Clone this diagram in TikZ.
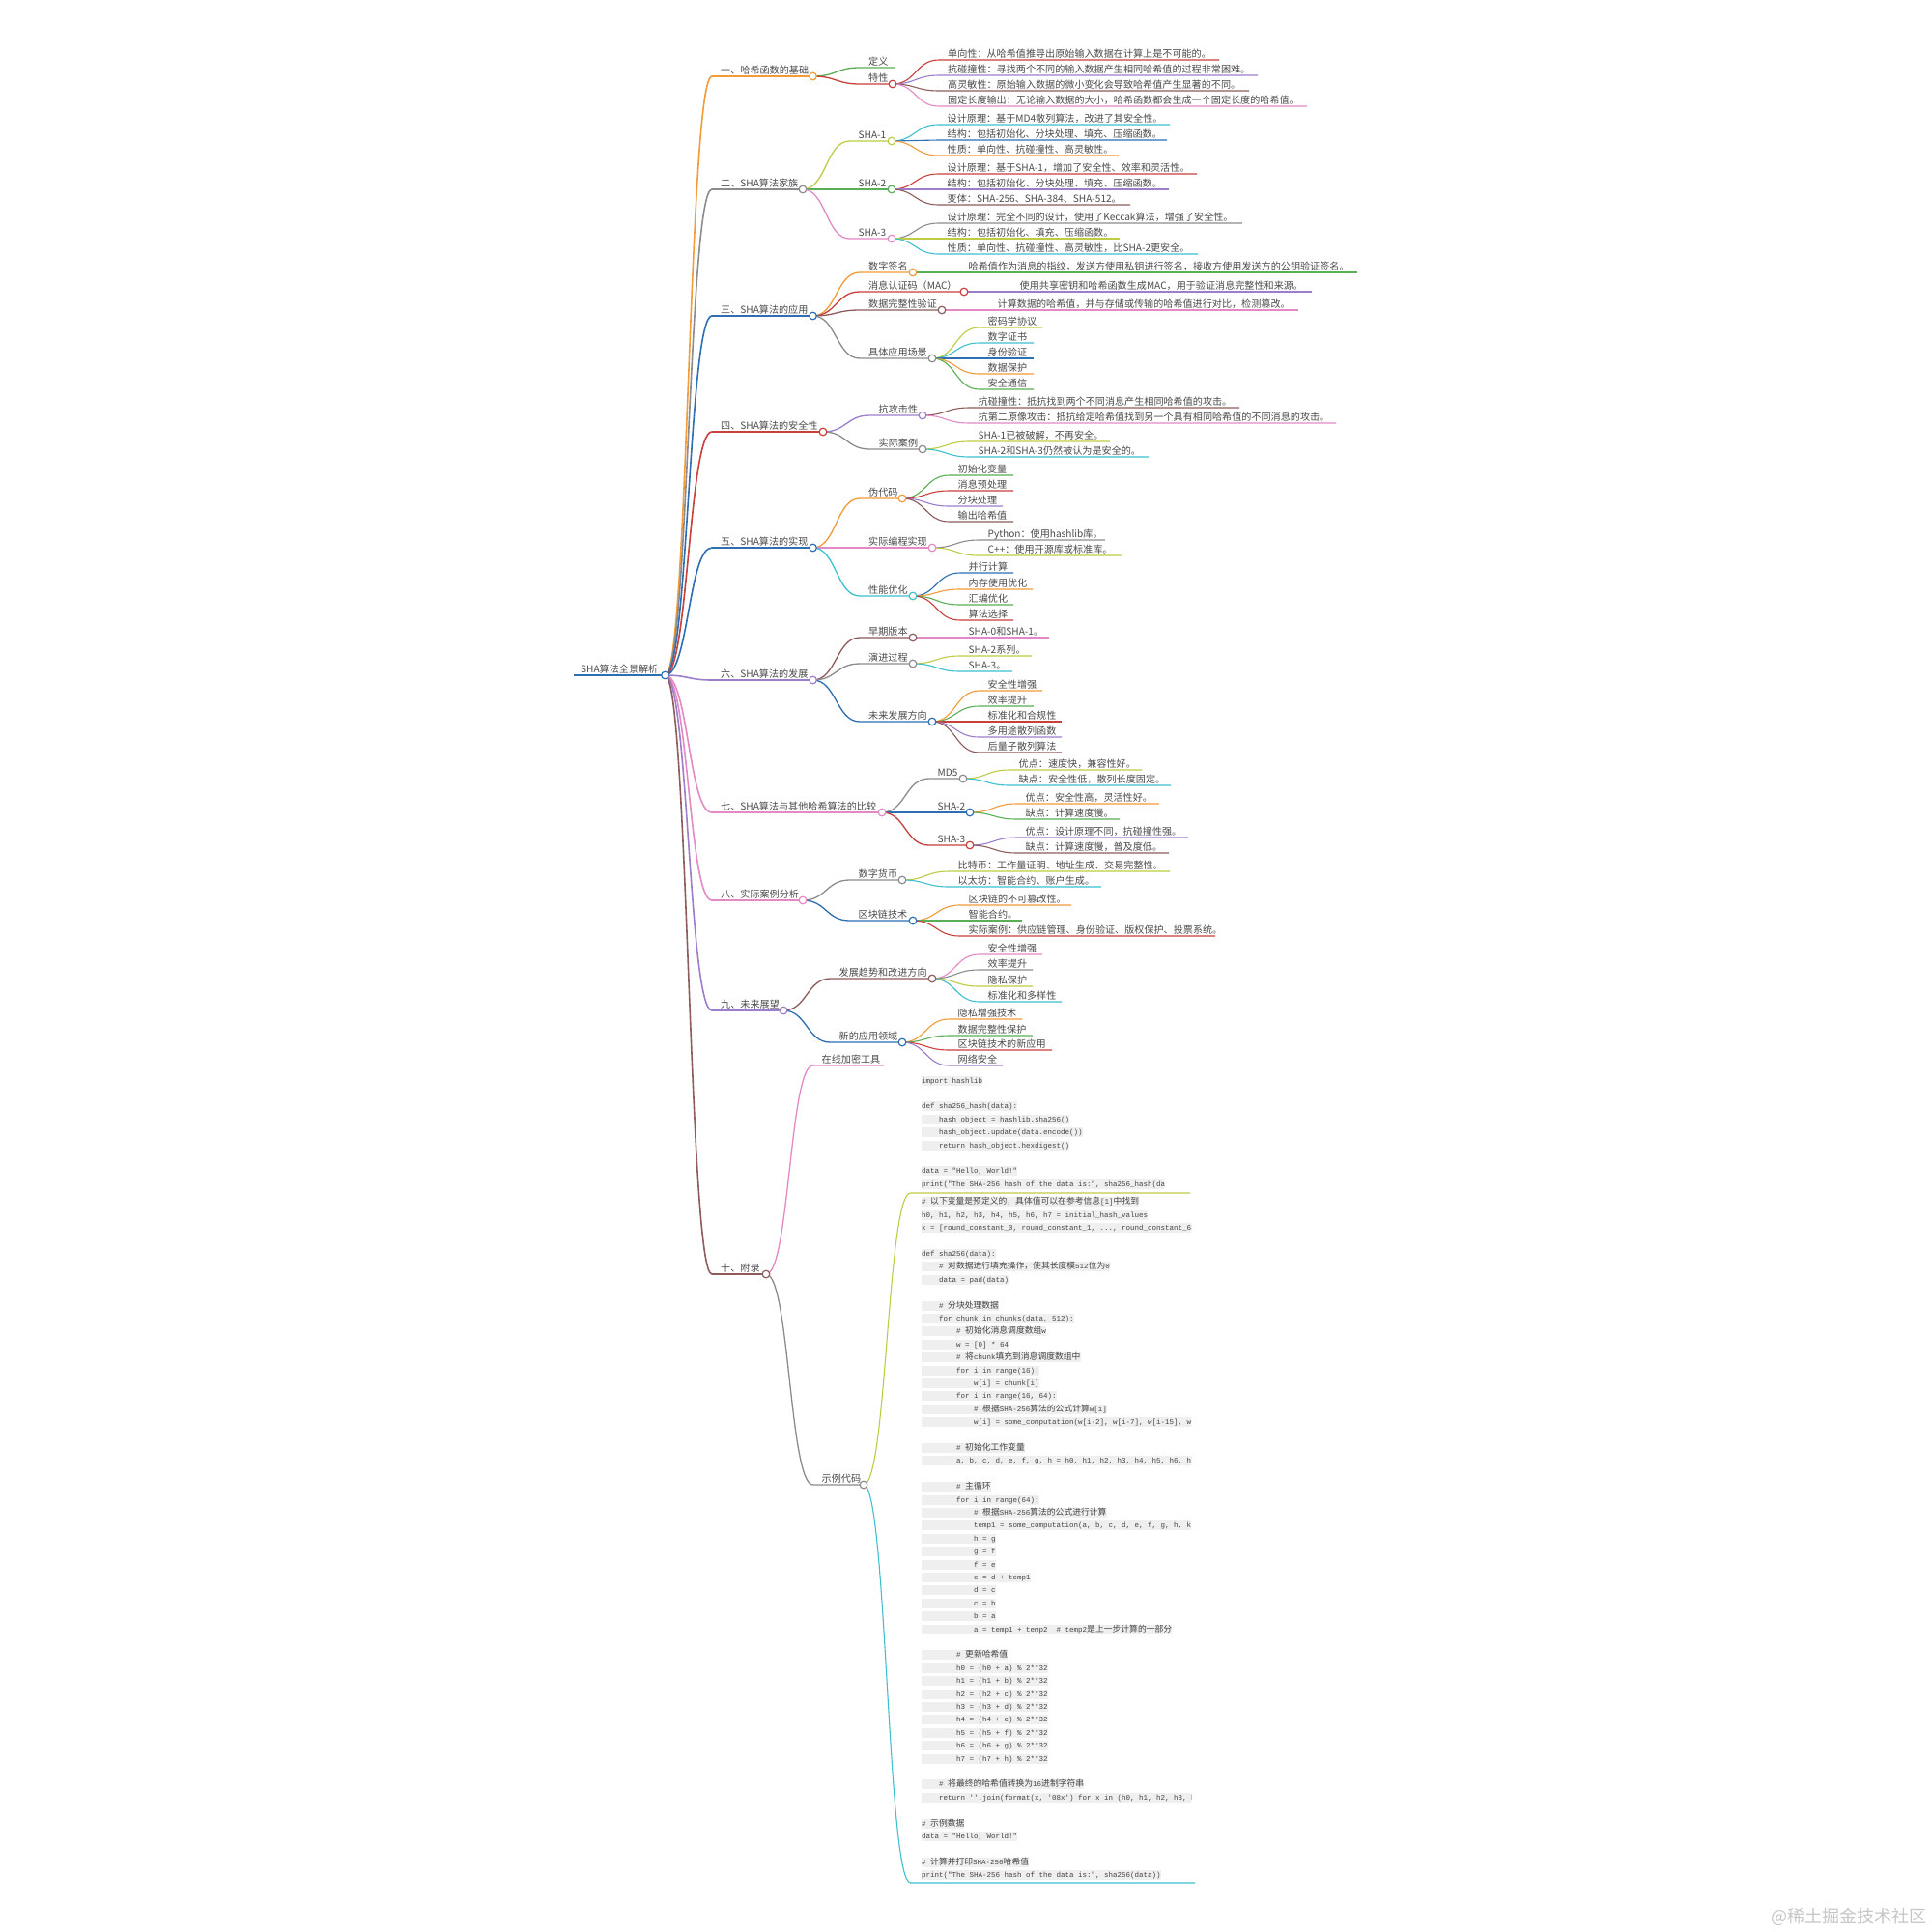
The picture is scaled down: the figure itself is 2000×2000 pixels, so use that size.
\documentclass[tikz,border=0pt]{standalone}
\usepackage{fontspec}
\setmainfont{Noto Sans CJK SC}
\setmonofont{Liberation Mono}
\usetikzlibrary{calc}
\definecolor{cOrange}{HTML}{F29B38}
\definecolor{cGreen}{HTML}{5AAE55}
\definecolor{cRed}{HTML}{C8403C}
\definecolor{cPurple}{HTML}{9D7ECB}
\definecolor{cBrown}{HTML}{8E5C5C}
\definecolor{cPink}{HTML}{E38AC6}
\definecolor{cGray}{HTML}{8C8C8C}
\definecolor{cYG}{HTML}{BFCB45}
\definecolor{cCyan}{HTML}{3EC0CF}
\definecolor{cBlue}{HTML}{2E6FB3}
\definecolor{txt}{HTML}{4A4A4A}
\definecolor{codebg}{HTML}{EFEFEF}
\definecolor{codetxt}{HTML}{444444}
\definecolor{wm}{HTML}{C6C6C6}
\pgfdeclarelayer{fg}
\pgfsetlayers{main,fg}
\newlength\cw
\setlength\cw{4.5pt}
\newcounter{cln}
\newcommand\Z[1]{{\rmfamily\fontsize{8.8}{10}\selectfont #1}}
% edge + underline: #1 lw, #2 name, #3 parent, #4 colour, #5 uy, #6 lx, #7 ex
\newcommand\mmE[7]{%
  \coordinate (#2l) at (#6,#5);
  \coordinate (#2) at (#7,#5);
  \coordinate (#2m) at ($(#3)!0.5!(#2l)$);
  \draw[line width=#1,draw=#4] (#3) .. controls (#3 -| #2m) and (#2l -| #2m) .. (#2l) -- (#2);
}
\newcommand\mmL[8]{\mmE{#1}{#2}{#3}{#4}{#5}{#6}{#7}%
  \node[mmtext] (#2t) at ($(#2l)+(9,-2.4)$) {#8};}
\newcommand\mmN[8]{\mmL{#1}{#2}{#3}{#4}{#5}{#6}{#7}{#8}%
  \begin{pgfonlayer}{fg}\node[circ,draw=#4] (#2c) at (#2) {};\end{pgfonlayer}}
\newcommand\cl[3]{\stepcounter{cln}\node[codeln] (cl\arabic{cln}) at (954,#1) {\hspace*{#2\cw}#3};}
\def\LA{1.6pt}
\def\LB{1.3pt}
\def\LC{1.1pt}
\begin{document}
\begin{tikzpicture}[x=1pt,y=-1pt,
  mmtext/.style={anchor=base west,inner sep=0pt,text=txt,font=\fontsize{10.1}{12}\selectfont},
  circ/.style={circle,fill=white,line width=1.2pt,minimum size=7.6pt,inner sep=0pt},
  codeln/.style={anchor=west,fill=codebg,inner xsep=0pt,inner ysep=0pt,text height=7.4pt,text depth=2.5pt,text=codetxt,font=\ttfamily\fontsize{7.5}{9}\selectfont}]
\useasboundingbox (0,0) rectangle (2000,2000);
\fill[white] (0,0) rectangle (2000,2000);

% root
\coordinate (R) at (688.5,699);
\coordinate (Rl) at (594,699);
\draw[line width=2.8pt,cBlue] (Rl) -- (R);
\node[mmtext] (Rt) at (601,696) {SHA算法全景解析};
\begin{pgfonlayer}{fg}\node[circ,draw=cBlue] (Rc) at (R) {};\end{pgfonlayer}

% 一
\mmN{\LA}{a1}{R}{cOrange}{79}{737}{841.5}{一、哈希函数的基础}
\mmL{\LB}{b11}{a1}{cGreen}{70}{890}{927}{定义}
\mmN{\LB}{b12}{a1}{cRed}{87}{890}{924}{特性}
\mmL{\LC}{c121}{b12}{cRed}{62}{972}{1262}{单向性：从哈希值推导出原始输入数据在计算上是不可能的。}
\mmL{\LC}{c122}{b12}{cPurple}{78}{972}{1302}{抗碰撞性：寻找两个不同的输入数据产生相同哈希值的过程非常困难。}
\mmL{\LC}{c123}{b12}{cBrown}{94}{972}{1293}{高灵敏性：原始输入数据的微小变化会导致哈希值产生显著的不同。}
\mmL{\LC}{c124}{b12}{cPink}{110}{972}{1353}{固定长度输出：无论输入数据的大小，哈希函数都会生成一个固定长度的哈希值。}

% 二
\mmN{\LA}{a2}{R}{cGray}{196}{737}{831}{二、SHA算法家族}
\mmN{\LB}{b21}{a2}{cYG}{146}{879.5}{923}{SHA-1}
\mmN{\LB}{b22}{a2}{cGreen}{196}{879.5}{923}{SHA-2}
\mmN{\LB}{b23}{a2}{cPink}{247}{879.5}{923}{SHA-3}
\mmL{\LC}{c211}{b21}{cCyan}{129}{971.5}{1211}{设计原理：基于MD4散列算法，改进了其安全性。}
\mmL{\LC}{c212}{b21}{cBlue}{145}{971.5}{1208}{结构：包括初始化、分块处理、填充、压缩函数。}
\mmL{\LC}{c213}{b21}{cOrange}{161}{971.5}{1158}{性质：单向性、抗碰撞性、高灵敏性。}
\mmL{\LC}{c221}{b22}{cRed}{180}{971.5}{1239}{设计原理：基于SHA-1，增加了安全性、效率和灵活性。}
\mmL{\LC}{c222}{b22}{cPurple}{196}{971.5}{1210}{结构：包括初始化、分块处理、填充、压缩函数。}
\mmL{\LC}{c223}{b22}{cBrown}{212}{971.5}{1170}{变体：SHA-256、SHA-384、SHA-512。}
\mmL{\LC}{c231}{b23}{cGray}{231}{971.5}{1286}{设计原理：完全不同的设计，使用了Keccak算法，增强了安全性。}
\mmL{\LC}{c232}{b23}{cYG}{247}{971.5}{1159}{结构：包括初始化、填充、压缩函数。}
\mmL{\LC}{c233}{b23}{cCyan}{263}{971.5}{1240}{性质：单向性、抗碰撞性、高灵敏性，比SHA-2更安全。}

% 三
\mmN{\LA}{a3}{R}{cBlue}{327}{737}{841.5}{三、SHA算法的应用}
\mmN{\LB}{b31}{a3}{cOrange}{282}{890}{945}{数字签名}
\mmN{\LB}{b32}{a3}{cRed}{302}{890}{998}{消息认证码（MAC）}
\mmN{\LB}{b33}{a3}{cBrown}{321}{890}{975}{数据完整性验证}
\mmN{\LB}{b34}{a3}{cGray}{371}{890}{965}{具体应用场景}
\mmL{\LC}{c311}{b31}{cGreen}{282}{993.5}{1405}{哈希值作为消息的指纹，发送方使用私钥进行签名，接收方使用发送方的公钥验证签名。}
\mmL{\LC}{c321}{b32}{cPurple}{302}{1046.5}{1358}{使用共享密钥和哈希函数生成MAC，用于验证消息完整性和来源。}
\mmL{\LC}{c331}{b33}{cPink}{321}{1023.5}{1344}{计算数据的哈希值，并与存储或传输的哈希值进行对比，检测篡改。}
\mmL{\LC}{c341}{b34}{cYG}{339}{1013.5}{1079}{密码学协议}
\mmL{\LC}{c342}{b34}{cCyan}{355}{1013.5}{1070}{数字证书}
\mmL{\LC}{c343}{b34}{cBlue}{371}{1013.5}{1070}{身份验证}
\mmL{\LC}{c344}{b34}{cOrange}{387}{1013.5}{1070}{数据保护}
\mmL{\LC}{c345}{b34}{cGreen}{403}{1013.5}{1070}{安全通信}

% 四
\mmN{\LA}{a4}{R}{cRed}{447}{737}{852}{四、SHA算法的安全性}
\mmN{\LB}{b41}{a4}{cPurple}{430}{900.5}{955}{抗攻击性}
\mmN{\LB}{b42}{a4}{cGray}{465}{900.5}{955}{实际案例}
\mmL{\LC}{c411}{b41}{cBrown}{422}{1003.5}{1283}{抗碰撞性：抵抗找到两个不同消息产生相同哈希值的攻击。}
\mmL{\LC}{c412}{b41}{cPink}{438}{1003.5}{1383}{抗第二原像攻击：抵抗给定哈希值找到另一个具有相同哈希值的不同消息的攻击。}
\mmL{\LC}{c421}{b42}{cYG}{457}{1003.5}{1149}{SHA-1已被破解，不再安全。}
\mmL{\LC}{c422}{b42}{cCyan}{473}{1003.5}{1189}{SHA-2和SHA-3仍然被认为是安全的。}

% 五
\mmN{\LA}{a5}{R}{cBlue}{567}{737}{841.5}{五、SHA算法的实现}
\mmN{\LB}{b51}{a5}{cOrange}{516}{890}{934}{伪代码}
\mmN{\LB}{b52}{a5}{cPink}{567}{890}{965}{实际编程实现}
\mmN{\LB}{b53}{a5}{cCyan}{617}{890}{945}{性能优化}
\mmL{\LC}{c511}{b51}{cGreen}{492}{982.5}{1049}{初始化变量}
\mmL{\LC}{c512}{b51}{cRed}{508}{982.5}{1049}{消息预处理}
\mmL{\LC}{c513}{b51}{cPurple}{524}{982.5}{1038}{分块处理}
\mmL{\LC}{c514}{b51}{cBrown}{540}{982.5}{1049}{输出哈希值}
\mmL{\LC}{c521}{b52}{cGray}{559}{1013.5}{1144}{Python：使用hashlib库。}
\mmL{\LC}{c522}{b52}{cYG}{575}{1013.5}{1161}{C++：使用开源库或标准库。}
\mmL{\LC}{c531}{b53}{cBlue}{593}{993.5}{1049}{并行计算}
\mmL{\LC}{c532}{b53}{cOrange}{610}{993.5}{1069}{内存使用优化}
\mmL{\LC}{c533}{b53}{cGreen}{626}{993.5}{1049}{汇编优化}
\mmL{\LC}{c534}{b53}{cRed}{642}{993.5}{1049}{算法选择}

% 六
\mmN{\LA}{a6}{R}{cPurple}{704}{737}{841.5}{六、SHA算法的发展}
\mmN{\LB}{b61}{a6}{cBrown}{660}{890}{945}{早期版本}
\mmN{\LB}{b62}{a6}{cGray}{687}{890}{945}{演进过程}
\mmN{\LB}{b63}{a6}{cBlue}{747}{890}{965}{未来发展方向}
\mmL{\LC}{c611}{b61}{cPink}{660}{993.5}{1086}{SHA-0和SHA-1。}
\mmL{\LC}{c621}{b62}{cYG}{679}{993.5}{1068}{SHA-2系列。}
\mmL{\LC}{c622}{b62}{cCyan}{695}{993.5}{1048}{SHA-3。}
\mmL{\LC}{c631}{b63}{cOrange}{715}{1013.5}{1079}{安全性增强}
\mmL{\LC}{c632}{b63}{cGreen}{731}{1013.5}{1070}{效率提升}
\mmL{\LC}{c633}{b63}{cRed}{747}{1013.5}{1099}{标准化和合规性}
\mmL{\LC}{c634}{b63}{cPurple}{763}{1013.5}{1099}{多用途散列函数}
\mmL{\LC}{c635}{b63}{cBrown}{779}{1013.5}{1099}{后量子散列算法}

% 七
\mmN{\LA}{a7}{R}{cPink}{841}{737}{913}{七、SHA算法与其他哈希算法的比较}
\mmN{\LB}{b71}{a7}{cGray}{806}{961.5}{997}{MD5}
\mmN{\LB}{b72}{a7}{cBlue}{841}{961.5}{1004}{SHA-2}
\mmN{\LB}{b73}{a7}{cRed}{875}{961.5}{1004}{SHA-3}
\mmL{\LC}{c711}{b71}{cYG}{797}{1045.5}{1182}{优点：速度快，兼容性好。}
\mmL{\LC}{c712}{b71}{cCyan}{813}{1045.5}{1212}{缺点：安全性低，散列长度固定。}
\mmL{\LC}{c721}{b72}{cOrange}{832}{1052.5}{1200}{优点：安全性高，灵活性好。}
\mmL{\LC}{c722}{b72}{cGreen}{848}{1052.5}{1159}{缺点：计算速度慢。}
\mmL{\LC}{c731}{b73}{cPurple}{867}{1052.5}{1230}{优点：设计原理不同，抗碰撞性强。}
\mmL{\LC}{c732}{b73}{cBrown}{883}{1052.5}{1210}{缺点：计算速度慢，普及度低。}

% 八
\mmN{\LA}{a8}{R}{cPink}{932}{737}{831}{八、实际案例分析}
\mmN{\LB}{b81}{a8}{cGray}{911}{879.5}{934}{数字货币}
\mmN{\LB}{b82}{a8}{cBlue}{953}{879.5}{945}{区块链技术}
\mmL{\LC}{c811}{b81}{cYG}{902}{982.5}{1211}{比特币：工作量证明、地址生成、交易完整性。}
\mmL{\LC}{c812}{b81}{cCyan}{918}{982.5}{1140}{以太坊：智能合约、账户生成。}
\mmL{\LC}{c821}{b82}{cOrange}{937}{993.5}{1109}{区块链的不可篡改性。}
\mmL{\LC}{c822}{b82}{cGreen}{953}{993.5}{1058}{智能合约。}
\mmL{\LC}{c823}{b82}{cRed}{969}{993.5}{1258}{实际案例：供应链管理、身份验证、版权保护、投票系统。}

% 九
\mmN{\LA}{a9}{R}{cPurple}{1046}{737}{811}{九、未来展望}
\mmN{\LB}{b91}{a9}{cBrown}{1013}{859.5}{965}{发展趋势和改进方向}
\mmN{\LB}{b92}{a9}{cBlue}{1079}{859.5}{934}{新的应用领域}
\mmL{\LC}{c911}{b91}{cPink}{988}{1013.5}{1079}{安全性增强}
\mmL{\LC}{c912}{b91}{cGray}{1004}{1013.5}{1069}{效率提升}
\mmL{\LC}{c913}{b91}{cYG}{1021}{1013.5}{1069}{隐私保护}
\mmL{\LC}{c914}{b91}{cCyan}{1037}{1013.5}{1099}{标准化和多样性}
\mmL{\LC}{c921}{b92}{cOrange}{1055}{982.5}{1058}{隐私增强技术}
\mmL{\LC}{c922}{b92}{cGreen}{1072}{982.5}{1069}{数据完整性保护}
\mmL{\LC}{c923}{b92}{cRed}{1087}{982.5}{1089}{区块链技术的新应用}
\mmL{\LC}{c924}{b92}{cPurple}{1103}{982.5}{1038}{网络安全}

% 十
\mmN{\LA}{a10}{R}{cBrown}{1319}{737}{793}{十、附录}
\mmL{\LB}{b101}{a10}{cPink}{1103}{841.5}{915}{在线加密工具}
\mmN{\LB}{b102}{a10}{cGray}{1537}{841.5}{894}{示例代码}
\mmE{\LC}{k1}{b102}{cYG}{1235}{942.5}{1232}
\mmE{\LC}{k2}{b102}{cCyan}{1949}{942.5}{1237}

% code block 1
\begin{scope}
\clip (950,1105) rectangle (1205,1232);
\cl{1118.6}{0}{import hashlib}
\cl{1145.4}{0}{def sha256\_hash(data):}
\cl{1158.8}{4}{hash\_object = hashlib.sha256()}
\cl{1172.2}{4}{hash\_object.update(data.encode())}
\cl{1185.6}{4}{return hash\_object.hexdigest()}
\cl{1212.4}{0}{data = "Hello, World!"}
\cl{1225.8}{0}{print("The SHA-256 hash of the data is:", sha256\_hash(data))}
\end{scope}

% code block 2
\begin{scope}
\clip (950,1237) rectangle (1233,1948);
\cl{1244.4}{0}{\# \Z{以下变量是预定义的，具体值可以在参考信息}[1]\Z{中找到}}
\cl{1257.8}{0}{h0, h1, h2, h3, h4, h5, h6, h7 = initial\_hash\_values}
\cl{1271.2}{0}{k = [round\_constant\_0, round\_constant\_1, ..., round\_constant\_63]}
\cl{1298.0}{0}{def sha256(data):}
\cl{1311.4}{4}{\# \Z{对数据进行填充操作，使其长度模}512\Z{位为}0}
\cl{1324.8}{4}{data = pad(data)}
\cl{1351.6}{4}{\# \Z{分块处理数据}}
\cl{1365.0}{4}{for chunk in chunks(data, 512):}
\cl{1378.4}{8}{\# \Z{初始化消息调度数组}w}
\cl{1391.8}{8}{w = [0] * 64}
\cl{1405.2}{8}{\# \Z{将}chunk\Z{填充到消息调度数组中}}
\cl{1418.6}{8}{for i in range(16):}
\cl{1432.0}{12}{w[i] = chunk[i]}
\cl{1445.4}{8}{for i in range(16, 64):}
\cl{1458.8}{12}{\# \Z{根据}SHA-256\Z{算法的公式计算}w[i]}
\cl{1472.2}{12}{w[i] = some\_computation(w[i-2], w[i-7], w[i-15], w[i-16])}
\cl{1499.0}{8}{\# \Z{初始化工作变量}}
\cl{1512.4}{8}{a, b, c, d, e, f, g, h = h0, h1, h2, h3, h4, h5, h6, h7}
\cl{1539.2}{8}{\# \Z{主循环}}
\cl{1552.6}{8}{for i in range(64):}
\cl{1566.0}{12}{\# \Z{根据}SHA-256\Z{算法的公式进行计算}}
\cl{1579.4}{12}{temp1 = some\_computation(a, b, c, d, e, f, g, h, k[i], w[i])}
\cl{1592.8}{12}{h = g}
\cl{1606.2}{12}{g = f}
\cl{1619.6}{12}{f = e}
\cl{1633.0}{12}{e = d + temp1}
\cl{1646.4}{12}{d = c}
\cl{1659.8}{12}{c = b}
\cl{1673.2}{12}{b = a}
\cl{1686.6}{12}{a = temp1 + temp2\ \ \# temp2\Z{是上一步计算的一部分}}
\cl{1713.4}{8}{\# \Z{更新哈希值}}
\cl{1726.8}{8}{h0 = (h0 + a) \% 2**32}
\cl{1740.2}{8}{h1 = (h1 + b) \% 2**32}
\cl{1753.6}{8}{h2 = (h2 + c) \% 2**32}
\cl{1767.0}{8}{h3 = (h3 + d) \% 2**32}
\cl{1780.4}{8}{h4 = (h4 + e) \% 2**32}
\cl{1793.8}{8}{h5 = (h5 + f) \% 2**32}
\cl{1807.2}{8}{h6 = (h6 + g) \% 2**32}
\cl{1820.6}{8}{h7 = (h7 + h) \% 2**32}
\cl{1847.4}{4}{\# \Z{将最终的哈希值转换为}16\Z{进制字符串}}
\cl{1860.8}{4}{return ''.join(format(x, '08x') for x in (h0, h1, h2, h3, h4, h5, h6, h7))}
\cl{1887.6}{0}{\# \Z{示例数据}}
\cl{1901.0}{0}{data = "Hello, World!"}
\cl{1927.8}{0}{\# \Z{计算并打印}SHA-256\Z{哈希值}}
\cl{1941.2}{0}{print("The SHA-256 hash of the data is:", sha256(data))}
\end{scope}

% watermark
\node[anchor=base east,inner sep=0pt,text=wm,font=\fontsize{18}{20}\selectfont] (wmk) at (1995,1990.5) {@稀土掘金技术社区};
\end{tikzpicture}
\end{document}
